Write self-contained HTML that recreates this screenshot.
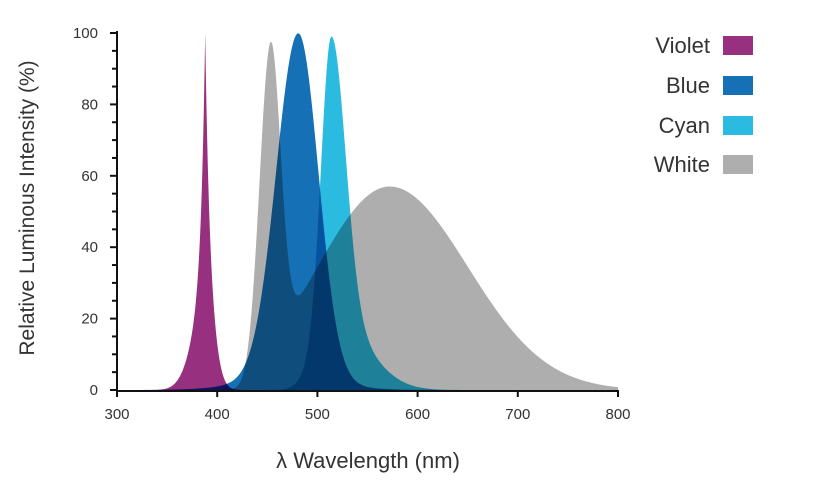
<!DOCTYPE html>
<html><head><meta charset="utf-8"><style>
html,body{margin:0;padding:0;background:#fff;width:821px;height:491px;overflow:hidden}
svg{display:block;font-family:"Liberation Sans",sans-serif}
.c{mix-blend-mode:multiply}
</style></head><body>
<svg id="s" width="821" height="491" xmlns="http://www.w3.org/2000/svg">
<g id="areas"></g>
<g id="axes" stroke="#111" stroke-width="2" fill="none"></g>
<g id="lab" fill="#333" font-size="15"></g>
<text x="34" y="208" font-size="21" fill="#333" text-anchor="middle" transform="rotate(-90 34 208)">Relative Luminous Intensity (%)</text>
<text x="368" y="468" font-size="22" fill="#333" text-anchor="middle">λ Wavelength (nm)</text>
<g font-size="22" fill="#333" text-anchor="end">
<text x="710" y="53">Violet</text>
<text x="710" y="93">Blue</text>
<text x="710" y="133">Cyan</text>
<text x="710" y="172">White</text>
</g>
<rect x="723" y="36" width="30" height="19" fill="#97307f"/>
<rect x="723" y="76" width="30" height="19" fill="#1570b6"/>
<rect x="723" y="116" width="30" height="19" fill="#2cbbe0"/>
<rect x="723" y="155" width="30" height="19" fill="#aeaeae"/>
</svg>
<script>
const X=w=>117+(w-300)*1.002, Y=v=>390-v*3.57;
const g=(x,m,s)=>Math.exp(-((x-m)*(x-m))/(2*s*s));
const ag=(x,m,l,r)=>g(x,m,x<m?l:r);
const sg=(x,m,k)=>1/(1+Math.exp(-(x-m)/k));
const fns=[
 ['#aeaeae',x=>91*ag(x,453,11,10)+57*ag(x,572,72,78)*sg(x,455,8)],
 ['#2cbbe0',x=>78*ag(x,514,10,14)+21*ag(x,514,16,34)],
 ['#1570b6',x=>97*ag(x,481,22,20)+3*g(x,470,45)],
 ['#97307f',x=>82*Math.exp(-Math.abs(x-388)/4.5)+18*ag(x,388,14,9)]
];
let h='';
for(const [c,f] of fns){
 let d='M'+X(300)+','+Y(0);
 for(let w=300;w<=800;w+=0.5){d+=' L'+X(w).toFixed(2)+','+Y(Math.min(100,f(w))).toFixed(2);}
 d+=' L'+X(800)+','+Y(0)+'Z';
 h+='<path class="c" fill="'+c+'" d="'+d+'"/>';
}
document.getElementById('areas').innerHTML=h;
let a='<path d="M117,31 V391 H619"/>',l='';
for(let v=0;v<=100;v+=5){const y=Y(v);a+='<path d="M'+(v%20?112:110)+','+y+' H117"/>';if(v%20==0)l+='<text x="98" y="'+(y+5)+'" text-anchor="end">'+v+'</text>';}
for(let w=300;w<=800;w+=100){const x=X(w);a+='<path d="M'+x+',390 V397"/>';l+='<text x="'+x+'" y="419" text-anchor="middle">'+w+'</text>';}
document.getElementById('axes').innerHTML=a;document.getElementById('lab').innerHTML=l;
</script>
</body></html>
